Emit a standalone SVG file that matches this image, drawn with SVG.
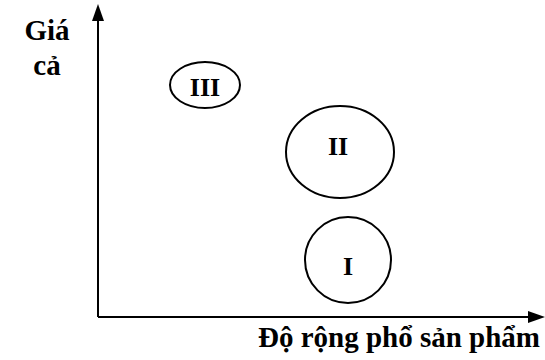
<svg xmlns="http://www.w3.org/2000/svg" width="545" height="360" viewBox="0 0 545 360">
<style>
text{font-weight:700;fill:#000}
.ax-l{font-size:29px}
.n-l{font-size:26px}
.c{fill:none;stroke:#000;stroke-width:2}
.ax{stroke:#000;stroke-width:2;fill:none}
</style>
<rect width="545" height="360" fill="#fff"/>
<g id="connectors">
<path class="ax" d="M98,317 L98,20"/>
<path d="M98,4 L92,21 L104,21 Z" fill="#000"/>
<path class="ax" d="M98,317 L530,317"/>
<path d="M545,317 L528,311 L528,323 Z" fill="#000"/>
</g>
<g font-family="Liberation Serif, DejaVu Serif, serif">
<g id="ylabel">
<text class="ax-l" x="47" y="40" text-anchor="middle">Giá</text>
<text class="ax-l" x="47" y="75" text-anchor="middle">cả</text>
</g>
<g id="xlabel">
<text class="ax-l" x="540" y="347" text-anchor="end">Độ rộng phổ sản phẩm</text>
</g>
<g id="node-III">
<ellipse class="c" cx="205" cy="85" rx="35" ry="23"/>
<text class="n-l" x="205" y="96" text-anchor="middle">III</text>
</g>
<g id="node-II">
<ellipse class="c" cx="340" cy="152" rx="54" ry="46"/>
<text class="n-l" x="338" y="155" text-anchor="middle">II</text>
</g>
<g id="node-I">
<ellipse class="c" cx="348" cy="260" rx="43" ry="43"/>
<text class="n-l" x="348" y="275" text-anchor="middle">I</text>
</g>
</g>
</svg>
